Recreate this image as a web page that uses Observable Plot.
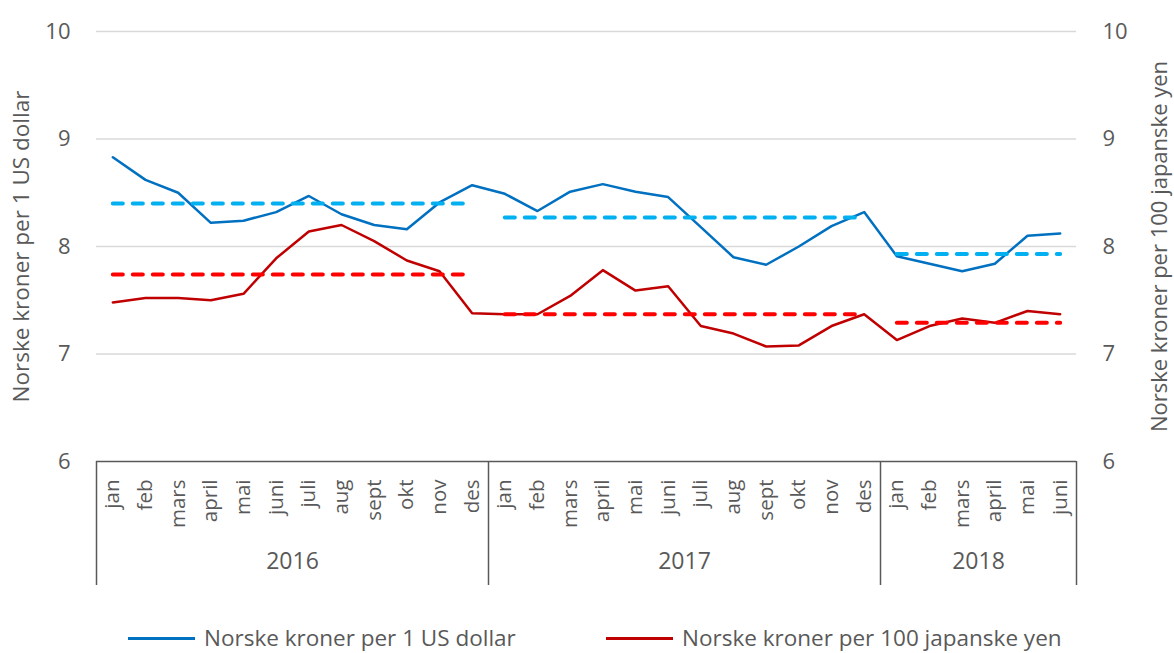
<!DOCTYPE html>
<html>
<head>
<meta charset="utf-8">
<script src="https://cdn.jsdelivr.net/npm/d3@7"></script>
<script src="https://cdn.jsdelivr.net/npm/@observablehq/plot@0.6"></script>
<style>
  html, body { margin: 0; padding: 0; background: #fff; }
  body { width: 1174px; height: 653px; overflow: hidden; font-family: "Open Sans", sans-serif; }
  #legend { position: relative; width: 1174px; height: 53px; color: #595959; font-size: 22.5px; }
  .sw { position: absolute; top: 37px; width: 67px; height: 2.5px; }
  .lt { position: absolute; top: 23px; line-height: 30px; white-space: nowrap; }
</style>
</head>
<body>
<div id="chart"></div>
<div id="legend"></div>
<script>
const months = ["jan","feb","mars","april","mai","juni","juli","aug","sept","okt","nov","des"];
const years = ["2016","2017","2018"];
const monthsPerYear = [12, 12, 6];
const usd = [8.83,8.62,8.50,8.22,8.24,8.32,8.47,8.30,8.20,8.16,8.41,8.57,
             8.49,8.33,8.51,8.58,8.51,8.46,8.18,7.90,7.83,8.00,8.19,8.32,
             7.91,7.84,7.77,7.84,8.10,8.12];
const jpy = [7.48,7.52,7.52,7.50,7.56,7.89,8.14,8.20,8.05,7.87,7.77,7.38,
             7.37,7.37,7.54,7.78,7.59,7.63,7.26,7.19,7.07,7.08,7.26,7.37,
             7.13,7.26,7.33,7.29,7.40,7.37];
const avgUsd = [8.40, 8.27, 7.93];
const avgJpy = [7.74, 7.37, 7.29];
const yTicks = [6, 7, 8, 9, 10];
const seriesNames = ["Norske kroner per 1 US dollar", "Norske kroner per 100 japanske yen"];
const colors = {usd: "#0070C0", jpy: "#C00000", avgUsd: "#00B0F0", avgJpy: "#FF0000"};
const textColor = "#595959";
const font = "'Open Sans', sans-serif";

// build tables
const data = [];
const groups = [];
let idx = 0;
years.forEach((yr, g) => {
  const start = idx;
  for (let m = 0; m < monthsPerYear[g]; m++) {
    data.push({i: idx, month: months[m], year: yr, usd: usd[idx], jpy: jpy[idx]});
    idx++;
  }
  const end = idx - 1;
  groups.push({year: yr, start, end, center: (start + end) / 2, usd: avgUsd[g], jpy: avgJpy[g]});
});
const boundaries = [-0.5, ...groups.map(g => g.end + 0.5)];

const chart = Plot.plot({
  width: 1174,
  height: 600,
  marginLeft: 96,
  marginRight: 98,
  marginTop: 31,
  marginBottom: 139,
  style: {fontFamily: font, color: textColor, background: "#fff", overflow: "visible"},
  x: {domain: [-0.5, data.length - 0.5], axis: null},
  y: {domain: [6, 10], axis: null},
  marks: [
    Plot.gridY([7, 8, 9, 10], {stroke: "#d9d9d9", strokeOpacity: 1, strokeWidth: 1.3}),
    Plot.axisY({anchor: "left", ticks: yTicks, tickFormat: d => String(d), tickSize: 0, tickPadding: 26, fontSize: 22, fill: textColor, label: null}),
    Plot.axisY({anchor: "right", ticks: yTicks, tickFormat: d => String(d), tickSize: 0, tickPadding: 26, fontSize: 22, fill: textColor, label: null}),
    Plot.axisX({ticks: boundaries, tickSize: 124, tickFormat: () => "", stroke: textColor, strokeWidth: 1.5, label: null}),
    Plot.ruleY([6], {stroke: textColor, strokeWidth: 1.5}),
    Plot.line(data, {x: "i", y: "usd", stroke: colors.usd, strokeWidth: 2.5}),
    Plot.line(data, {x: "i", y: "jpy", stroke: colors.jpy, strokeWidth: 2.5}),
    Plot.link(groups, {x1: "start", x2: "end", y1: "usd", y2: "usd", stroke: colors.avgUsd, strokeWidth: 4, strokeDasharray: "10,10", strokeLinecap: "round"}),
    Plot.link(groups, {x1: "start", x2: "end", y1: "jpy", y2: "jpy", stroke: colors.avgJpy, strokeWidth: 4, strokeDasharray: "10,10", strokeLinecap: "round"}),
    Plot.text(data, {x: "i", text: "month", frameAnchor: "bottom", dy: 18, rotate: -90, textAnchor: "end", lineAnchor: "middle", fontSize: 20.5, fill: textColor}),
    Plot.text(groups, {x: "center", text: "year", frameAnchor: "bottom", dy: 107, fontSize: 23, fill: textColor}),
    Plot.text([seriesNames[0]], {text: d => d, frameAnchor: "left", dx: -75, rotate: -90, textAnchor: "middle", lineAnchor: "middle", fontSize: 22.5, fill: textColor}),
    Plot.text([seriesNames[1]], {text: d => d, frameAnchor: "right", dx: 83, rotate: -90, textAnchor: "middle", lineAnchor: "middle", fontSize: 22, fill: textColor})
  ]
});
document.getElementById("chart").appendChild(chart);

const legend = document.getElementById("legend");
const legendItems = [
  {name: seriesNames[0], color: colors.usd, sw: 128, tx: 204},
  {name: seriesNames[1], color: colors.jpy, sw: 606, tx: 682}
];
legendItems.forEach(it => {
  const s = document.createElement("div");
  s.className = "sw"; s.style.left = it.sw + "px"; s.style.background = it.color;
  const t = document.createElement("div");
  t.className = "lt"; t.style.left = it.tx + "px"; t.textContent = it.name;
  legend.appendChild(s); legend.appendChild(t);
});
</script>
</body>
</html>
